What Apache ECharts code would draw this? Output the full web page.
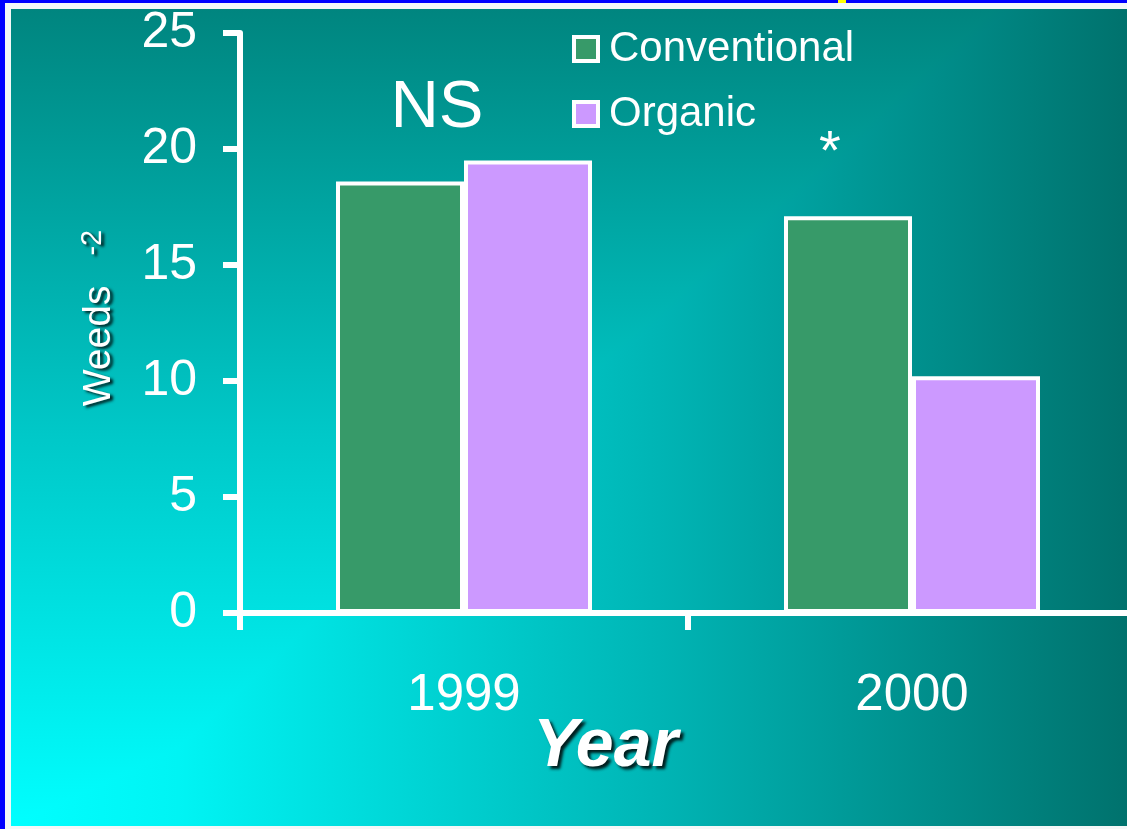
<!DOCTYPE html>
<html>
<head>
<meta charset="utf-8">
<title>Weeds per square metre</title>
<script src="https://cdn.jsdelivr.net/npm/echarts@6/dist/echarts.min.js"></script>
<style>
  html, body { margin: 0; padding: 0; width: 1127px; height: 829px; overflow: hidden; }
  #frame { position: absolute; left: 0; top: 0; width: 1127px; height: 829px; background: #0000ff; }
  #mark { position: absolute; left: 838px; top: 0; width: 8px; height: 4px; background: #ffff00; }
  #edge { position: absolute; left: 5px; top: 3px; right: 0; bottom: 0; background: #f4f8f8; }
  #panel {
    position: absolute; left: 6px; top: 6px; right: 0; bottom: 3px;
    background-image:
      linear-gradient(to right, #00ffff 0%, #00f4f4 15%, #00b5b5 58%, #00726d 100%),
      linear-gradient(to bottom, #00857f 0%, #00c8c8 52%, #00ffff 100%);
    background-blend-mode: darken;
  }
  #chart { position: absolute; left: 0; top: 0; width: 1127px; height: 829px; }
</style>
</head>
<body>
<div id="frame"><div id="mark"></div><div id="edge"><div id="panel"></div></div></div>
<div id="chart"></div>
<script>
// Weed density by year and farming system
const years = ['1999', '2000'];
const conventional = [18.6, 17.1];
const organic = [19.5, 10.2];
const significance = ['NS', '*'];

const FONT = '"Liberation Sans", Arial, Helvetica, sans-serif';
const WHITE = '#ffffff';
const SHADOW = 'rgba(0,0,0,0.85)';

const chart = echarts.init(document.getElementById('chart'), null, { renderer: 'canvas' });

const option = {
  backgroundColor: 'transparent',
  animation: false,
  textStyle: { fontFamily: FONT },
  title: {
    text: 'Year',
    left: 533,
    top: 713,
    padding: 0,
    textStyle: {
      color: WHITE,
      fontFamily: FONT,
      fontSize: 68,
      fontWeight: 'bold',
      fontStyle: 'italic',
      textShadowColor: SHADOW,
      textShadowBlur: 3,
      textShadowOffsetX: 3,
      textShadowOffsetY: 3
    }
  },
  legend: {
    orient: 'vertical',
    left: 572,
    top: 26,
    padding: 0,
    itemGap: 19,
    itemWidth: 24,
    itemHeight: 24,
    icon: 'rect',
    itemStyle: { borderColor: WHITE, borderWidth: 4 },
    formatter: '{t|{name}}',
    textStyle: {
      color: WHITE,
      fontFamily: FONT,
      fontSize: 42,
      lineHeight: 46,
      rich: { t: { color: WHITE, fontFamily: FONT, fontSize: 42, lineHeight: 46, padding: [0, 0, 0, 6] } }
    },
    data: ['Conventional', 'Organic']
  },
  // the axis runs past the right edge of the page, so the grid is not kept inside it
  grid: { left: 240, top: 33, width: 896, bottom: 216, containLabel: false, outerBoundsMode: 'none' },
  xAxis: {
    type: 'category',
    data: years,
    axisLine: { show: true, lineStyle: { color: WHITE, width: 6 } },
    axisTick: { show: true, alignWithLabel: false, length: 17, lineStyle: { color: WHITE, width: 6 } },
    axisLabel: { color: WHITE, fontFamily: FONT, fontSize: 51, margin: 57 },
    splitLine: { show: false }
  },
  yAxis: {
    type: 'value',
    min: 0,
    max: 25,
    interval: 5,
    name: '{w|Weeds}{s|-2}',
    nameLocation: 'middle',
    nameRotate: 90,
    nameGap: 120,
    nameTextStyle: {
      rich: {
        w: {
          color: WHITE, fontFamily: FONT, fontSize: 39, lineHeight: 42, padding: [0, 0, 0, 10],
          textShadowColor: SHADOW, textShadowBlur: 3, textShadowOffsetX: 3, textShadowOffsetY: 2
        },
        s: {
          color: WHITE, fontFamily: FONT, fontSize: 29, lineHeight: 42, verticalAlign: 'top', padding: [0, 0, 0, 30],
          textShadowColor: SHADOW, textShadowBlur: 3, textShadowOffsetX: 3, textShadowOffsetY: 2
        }
      }
    },
    axisLine: { show: true, lineStyle: { color: WHITE, width: 6 } },
    axisTick: { show: true, length: 17, lineStyle: { color: WHITE, width: 6 } },
    axisLabel: { color: WHITE, fontFamily: FONT, fontSize: 50, margin: 43, padding: [4, 0, 0, 0] },
    splitLine: { show: false }
  },
  series: [
    {
      name: 'Conventional',
      type: 'bar',
      data: conventional,
      barWidth: 128,
      barGap: '0%',
      itemStyle: { color: '#379a69', borderColor: WHITE, borderWidth: 4 }
    },
    {
      name: 'Organic',
      type: 'bar',
      data: organic,
      barWidth: 128,
      barGap: '0%',
      itemStyle: { color: '#cc99ff', borderColor: WHITE, borderWidth: 4 }
    }
  ]
};

chart.setOption(option);

// Significance marks above each year group, placed from the group's tallest bar
const markStyle = [
  { dx: -27, dy: -52, fontSize: 67 },
  { dx: -82, dy: -63, fontSize: 56 }
];
const graphics = years.map(function (year, i) {
  const top = Math.max(conventional[i], organic[i]);
  const p = chart.convertToPixel({ gridIndex: 0 }, [year, top]);
  const s = markStyle[i];
  return {
    type: 'text',
    x: p[0] + s.dx,
    y: p[1] + s.dy,
    style: {
      text: significance[i],
      fill: WHITE,
      font: s.fontSize + 'px ' + FONT,
      textAlign: 'center',
      textVerticalAlign: 'middle'
    }
  };
});
chart.setOption({ graphic: graphics });
</script>
</body>
</html>
